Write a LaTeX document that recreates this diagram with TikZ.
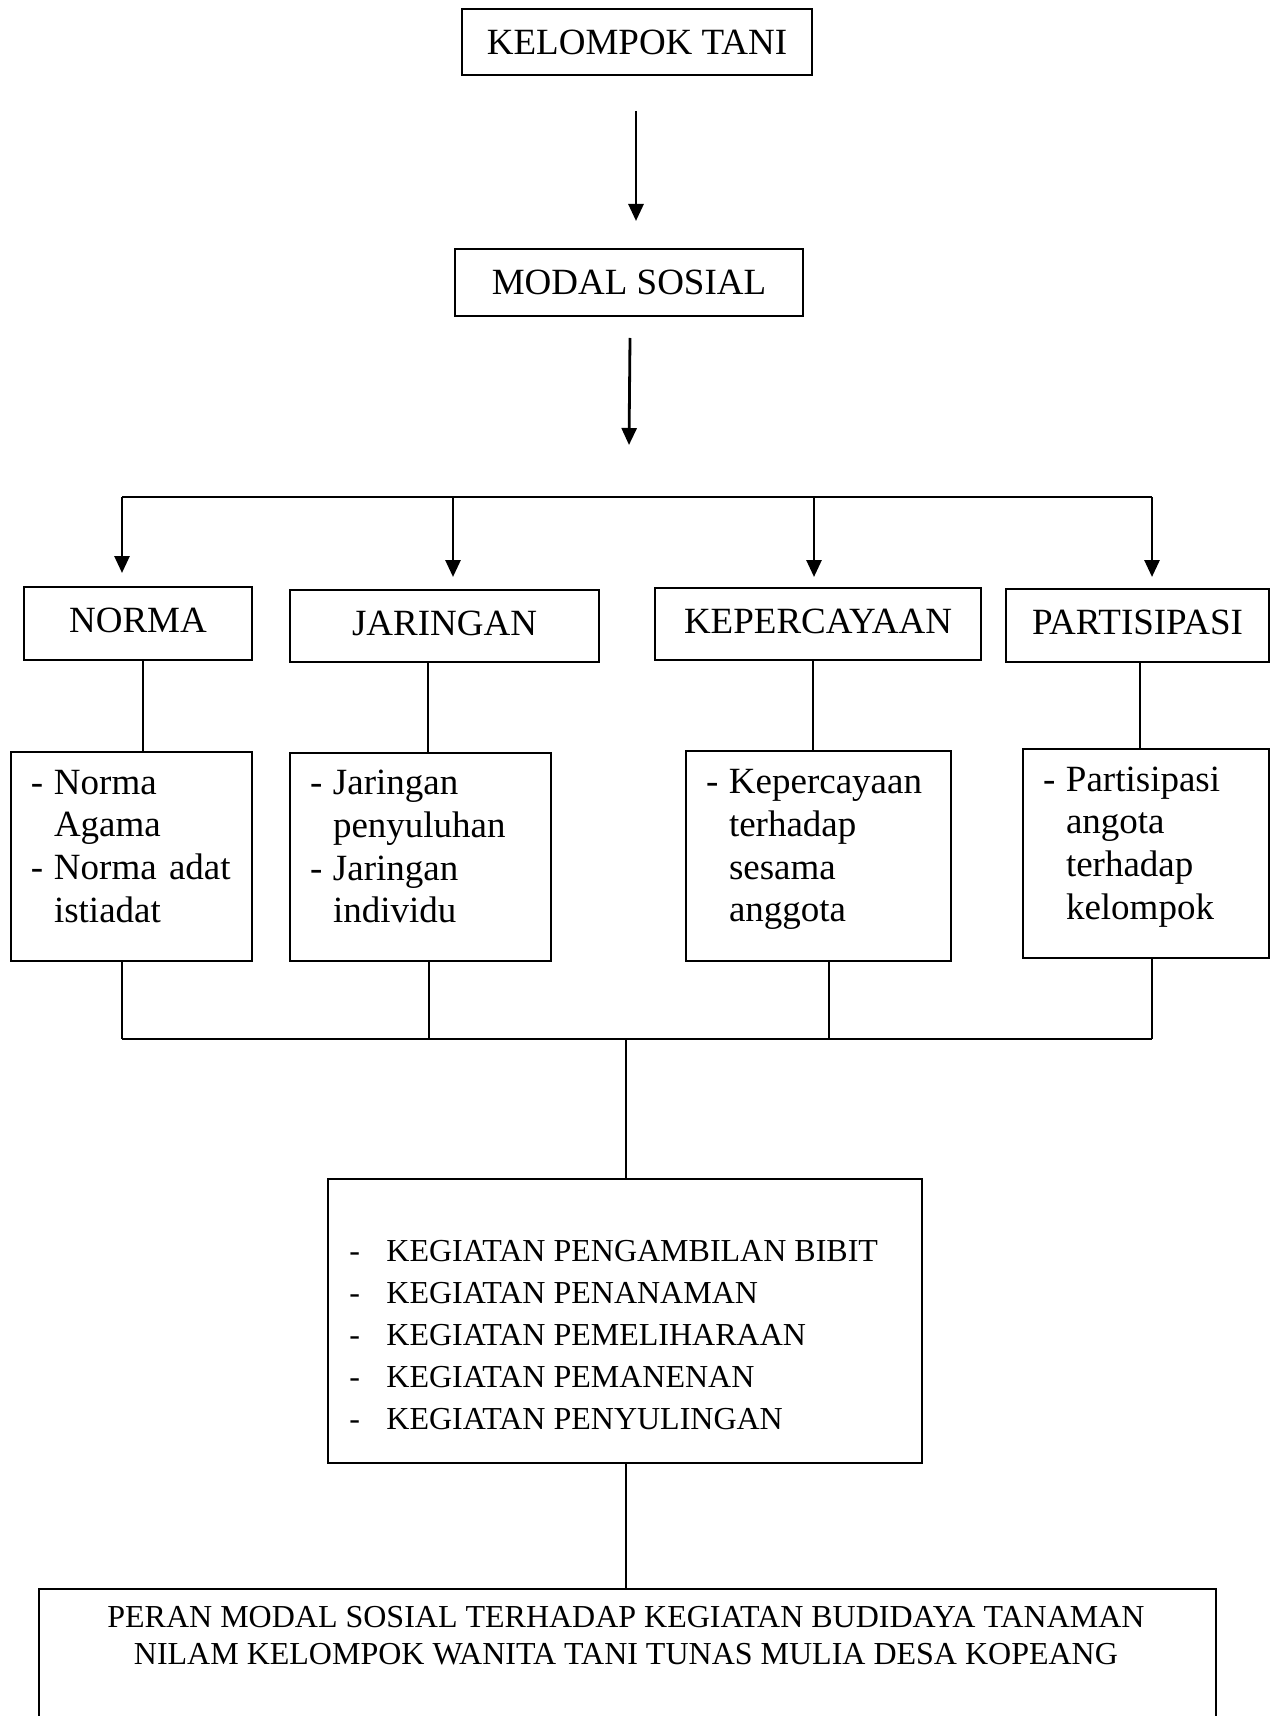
\documentclass[tikz,border=0pt]{standalone}
\usepackage{fontspec}
\setmainfont{Liberation Serif}
\usetikzlibrary{arrows.meta}
\newcommand\itemdash{\makebox[11.5pt][l]{-}}
\newcommand\itemcont{\hspace*{11.5pt}}
\newcommand\actdash{\makebox[18.5pt][l]{-}}
\begin{document}
\begin{tikzpicture}[x=0.5pt,y=-0.5pt,
  box/.style={draw, line width=1.1pt, inner sep=0pt, font=\fontsize{18.5pt}{21.35pt}\selectfont},
  headbox/.style={box, text height=12.2pt, text depth=3pt},
  itembox/.style={draw, line width=1.1pt, inner ysep=0pt, inner xsep=10pt, align=left,
    font=\fontsize{18.5pt}{21.35pt}\selectfont},
  plainbox/.style={draw, line width=1.1pt, inner sep=0pt},
  arr/.style={line width=1.4pt, -{Triangle[length=8.5pt,width=7.5pt]}},
  conn/.style={line width=0.65pt},
  bar/.style={line width=1.3pt}
]
\useasboundingbox (0,0) rectangle (1278,1716);
\fill[white] (0,0) rectangle (1278,1716);

% top boxes
\node[box, minimum width=175pt, minimum height=33pt] (kt) at (637,42) {KELOMPOK TANI};
\node[box, minimum width=174pt, minimum height=33.5pt] (ms) at (629,282.5) {MODAL SOSIAL\hspace{5pt}};

% header row
\node[headbox, minimum width=114pt, minimum height=36.5pt] (norma) at (138,623.5) {NORMA};
\node[headbox, minimum width=154.5pt, minimum height=36pt] (jar) at (444.5,626) {JARINGAN};
\node[headbox, minimum width=163pt, minimum height=36pt] (kep) at (818,624) {KEPERCAYAAN};
\node[headbox, minimum width=131.5pt, minimum height=36.5pt] (par) at (1137.5,625.5) {PARTISIPASI};

% item boxes
\node[itembox, text width=100.5pt, minimum height=104.5pt] (normaI) at (131.5,856.5)
  {\noindent\rule{0pt}{12.4pt}\itemdash Norma\\\itemcont Agama\\\itemdash Norma~adat\\\itemcont istiadat\rule[-10.75pt]{0pt}{10.75pt}};
\node[itembox, text width=110.5pt, minimum height=104pt] (jarI) at (420.5,857)
  {\noindent\rule{0pt}{12.4pt}\itemdash Jaringan\\\itemcont penyuluhan\\\itemdash Jaringan\\\itemcont individu\rule[-10.75pt]{0pt}{10.75pt}};
\node[itembox, text width=112.5pt, minimum height=105pt] (kepI) at (818.5,856)
  {\noindent\rule{0pt}{12.4pt}\itemdash Kepercayaan\\\itemcont terhadap\\\itemcont sesama\\\itemcont anggota\rule[-10.75pt]{0pt}{10.75pt}};
\node[itembox, text width=103pt, minimum height=104.5pt] (parI) at (1146,853.5)
  {\noindent\rule{0pt}{12.4pt}\itemdash Partisipasi\\\itemcont angota\\\itemcont terhadap\\\itemcont kelompok\rule[-10.75pt]{0pt}{10.75pt}};

% activities box
\node[plainbox, minimum width=297pt, minimum height=142pt] (act) at (625,1321) {};
\node[align=left, inner sep=0pt, anchor=west, font=\fontsize{16pt}{21pt}\selectfont] (actT) at (349,1335.5)
  {\actdash KEGIATAN PENGAMBILAN BIBIT\\\actdash KEGIATAN PENANAMAN\\\actdash KEGIATAN PEMELIHARAAN\\\actdash KEGIATAN PEMANENAN\\\actdash KEGIATAN PENYULINGAN};

% final box (runs off the bottom edge)
\node[plainbox, minimum width=588.5pt, minimum height=72pt] (final) at (627.5,1661) {};
\node[align=center, inner sep=0pt, font=\fontsize{16pt}{18.5pt}\selectfont] (finalT) at (626,1636)
  {PERAN MODAL SOSIAL TERHADAP KEGIATAN BUDIDAYA TANAMAN\\NILAM KELOMPOK WANITA TANI TUNAS MULIA DESA KOPEANG};

% coordinates
\coordinate (a1s) at (636,111);
\coordinate (a1e) at (636,221);
\coordinate (a2s) at (630,338);
\coordinate (a2e) at (629,445);
\coordinate (bl) at (122,497);
\coordinate (br) at (1152,497);
\coordinate (bJ) at (453,497);
\coordinate (bK) at (814,497);
\coordinate (tN) at (122,573);
\coordinate (tJ) at (453,577);
\coordinate (tK) at (814,577);
\coordinate (tP) at (1152,577);
\coordinate (xN) at (143,700);
\coordinate (xJ) at (428,700);
\coordinate (xK) at (813,700);
\coordinate (xP) at (1140,700);
\coordinate (jl) at (122,1039);
\coordinate (jJ) at (429,1039);
\coordinate (jK) at (829,1039);
\coordinate (jr) at (1152,1039);
\coordinate (jm) at (626,1039);

% arrows
\draw[arr] (a1s) -- (a1e);
\draw[arr] (a2s) -- (a2e);
\draw[bar] (bl) -- (br);
\draw[arr] (bl) -- (tN);
\draw[arr] (bJ) -- (tJ);
\draw[arr] (bK) -- (tK);
\draw[arr] (br) -- (tP);

% header -> items
\draw[conn] (norma.south -| xN) -- (normaI.north -| xN);
\draw[conn] (jar.south -| xJ) -- (jarI.north -| xJ);
\draw[conn] (kep.south -| xK) -- (kepI.north -| xK);
\draw[conn] (par.south -| xP) -- (parI.north -| xP);

% items -> joining bar
\draw[conn] (normaI.south -| jl) -- (jl);
\draw[conn] (jarI.south -| jJ) -- (jJ);
\draw[conn] (kepI.south -| jK) -- (jK);
\draw[conn] (parI.south -| jr) -- (jr);
\draw[bar] (jl) -- (jr);

% to activities and final
\draw[conn] (jm) -- (act.north -| jm);
\draw[conn] (act.south -| jm) -- (final.north -| jm);
\end{tikzpicture}
\end{document}
